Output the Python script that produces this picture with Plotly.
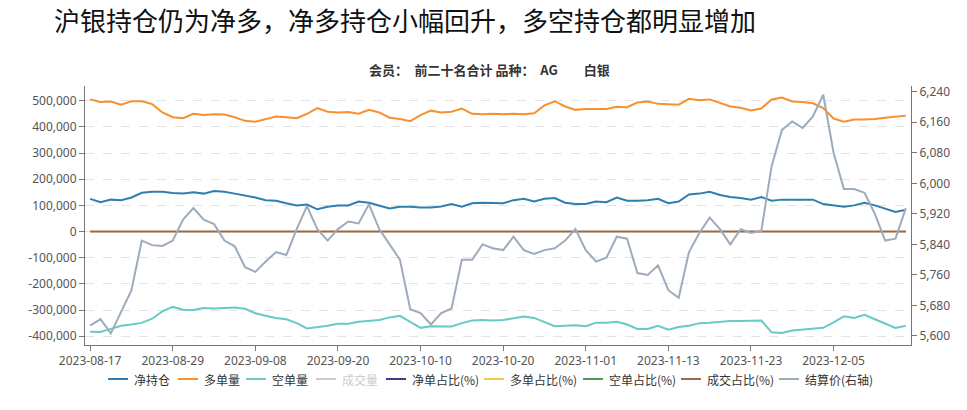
import plotly.graph_objects as go

dates = ["2023-08-17","2023-08-18","2023-08-21","2023-08-22","2023-08-23","2023-08-24","2023-08-25","2023-08-28","2023-08-29","2023-08-30","2023-08-31",
         "2023-09-01","2023-09-04","2023-09-05","2023-09-06","2023-09-07","2023-09-08","2023-09-11","2023-09-12","2023-09-13","2023-09-14","2023-09-15",
         "2023-09-18","2023-09-19","2023-09-20","2023-09-21","2023-09-22","2023-09-25","2023-09-26","2023-09-27","2023-09-28",
         "2023-10-09","2023-10-10","2023-10-11","2023-10-12","2023-10-13","2023-10-16","2023-10-17","2023-10-18","2023-10-19","2023-10-20",
         "2023-10-23","2023-10-24","2023-10-25","2023-10-26","2023-10-27","2023-10-30","2023-10-31",
         "2023-11-01","2023-11-02","2023-11-03","2023-11-06","2023-11-07","2023-11-08","2023-11-09","2023-11-10","2023-11-13","2023-11-14",
         "2023-11-15","2023-11-16","2023-11-17","2023-11-20","2023-11-21","2023-11-22","2023-11-23","2023-11-24","2023-11-27","2023-11-28",
         "2023-11-29","2023-11-30","2023-12-01","2023-12-04","2023-12-05","2023-12-06","2023-12-07","2023-12-08","2023-12-11","2023-12-12",
         "2023-12-13","2023-12-14"]

net_pos = [125, 112, 122, 120, 130, 148, 152, 152, 147, 145, 150, 145, 155, 152, 145, 138, 130, 120, 118, 108,
           100, 103, 85, 95, 100, 100, 115, 110, 100, 88, 95, 95, 92, 92, 96, 105, 95, 108, 110, 108,
           108, 120, 125, 115, 125, 128, 110, 105, 105, 115, 112, 130, 118, 118, 120, 125, 108, 115, 142, 145,
           152, 140, 132, 128, 122, 132, 118, 122, 122, 120, 122, 105, 100, 95, 100, 110, 100, 88, 75, 83]
long_pos = [505, 495, 497, 485, 498, 498, 487, 455, 437, 433, 450, 445, 448, 447, 437, 423, 420, 430, 440, 437,
            433, 450, 472, 458, 455, 457, 450, 465, 455, 435, 430, 422, 445, 462, 455, 458, 470, 450, 448, 450,
            448, 450, 448, 452, 482, 498, 478, 465, 468, 468, 468, 477, 475, 493, 497, 488, 487, 485, 507, 502,
            505, 490, 478, 473, 463, 470, 505, 512, 497, 495, 490, 472, 432, 420, 428, 428, 430, 435, 440, 443]
short_pos = [-383, -384, -372, -360, -355, -349, -333, -305, -288, -299, -300, -292, -294, -292, -290, -295, -312, -322, -330, -335,
             -350, -370, -365, -360, -352, -352, -345, -342, -338, -328, -322, -345, -368, -362, -362, -363, -350, -340, -338, -340,
             -338, -332, -325, -330, -345, -362, -360, -358, -362, -348, -348, -345, -355, -372, -372, -360, -375, -365, -360, -350,
             -348, -345, -342, -342, -340, -340, -385, -388, -378, -375, -370, -368, -347, -324, -330, -318, -335, -352, -368, -360]
settle = [5627, 5644, 5607, 5665, 5720, 5850, 5838, 5836, 5850, 5905, 5935, 5905, 5893, 5850, 5835, 5780, 5768, 5795, 5820, 5812,
          5880, 5940, 5880, 5850, 5880, 5900, 5895, 5945, 5880, 5840, 5800, 5670, 5660, 5630, 5660, 5672, 5800, 5800, 5840, 5830,
          5825, 5860, 5825, 5815, 5825, 5830, 5850, 5880, 5825, 5795, 5805, 5860, 5855, 5765, 5760, 5785, 5720, 5700, 5820, 5870,
          5910, 5880, 5840, 5880, 5870, 5875, 6045, 6140, 6162, 6145, 6175, 6232, 6080, 5985, 5985, 5975, 5920, 5850, 5855, 5935]
# ratio series (%): they sit on the zero line at the left-axis scale
net_ratio = [0] * len(dates)
long_ratio = [0] * len(dates)
short_ratio = [0] * len(dates)
vol_ratio = [0] * len(dates)
volume = [0] * len(dates)

left_ticks = [-400000, -300000, -200000, -100000, 0, 100000, 200000, 300000, 400000, 500000]
right_ticks = [5600, 5680, 5760, 5840, 5920, 6000, 6080, 6160, 6240]
x_ticks = dates[::8]

series_names = ["净持仓", "多单量", "空单量", "成交量", "净单占比(%)", "多单占比(%)", "空单占比(%)", "成交占比(%)", "结算价(右轴)"]
series_colors = ["#2f7eb2", "#f7902e", "#66cbc6", "#cccccc", "#3c3f8f", "#f2c94c", "#4e9a57", "#9c6a46", "#9eabbb"]

font_fam = "Noto Sans, Noto Sans CJK SC, sans-serif"
cjk = "Noto Sans CJK SC, sans-serif"

# plot area in pixels: x 85..911, y 86..345
L, R, T, B = 85, 911, 86, 345
W, H = R - L, B - T
def px(x): return (x - L) / W
def py(y): return (B - y) / H

fig = go.Figure()

def add(idx, y, axis="y", visible=True, width=2):
    fig.add_trace(go.Scatter(x=dates, y=y, name=series_names[idx], mode="lines", yaxis=axis,
                             line=dict(color=series_colors[idx], width=width), visible=visible,
                             showlegend=False))

add(0, [v * 1000 for v in net_pos])
add(1, [v * 1000 for v in long_pos])
add(2, [v * 1000 for v in short_pos])
add(3, volume, visible=False)
add(4, net_ratio, width=1)
add(5, long_ratio, width=1)
add(6, short_ratio, width=1)
add(7, vol_ratio)
add(8, settle, axis="y2")

# legend row (drawn as shapes + text so spacing matches)
legend_text_x = [132, 202, 270, 340, 410, 508, 607, 705, 803]
legend_y = 379
shapes = []
annotations = []
for name, color, tx in zip(series_names, series_colors, legend_text_x):
    shapes.append(dict(type="line", xref="paper", yref="paper", x0=px(tx - 24), x1=px(tx - 4),
                       y0=py(legend_y), y1=py(legend_y), line=dict(color=color, width=2)))
    annotations.append(dict(text=name, xref="paper", yref="paper", x=px(tx), y=py(legend_y),
                            xanchor="left", yanchor="middle", showarrow=False,
                            font=dict(family=cjk, size=12, color="#cccccc" if name == "成交量" else "#333")))

annotations.append(dict(text="沪银持仓仍为净多，净多持仓小幅回升，多空持仓都明显增加", xref="paper", yref="paper",
                        x=px(53), y=py(0), xanchor="left", yanchor="top", showarrow=False, borderpad=0,
                        font=dict(family=cjk, size=26, color="#111")))
annotations.append(dict(text="<b>会员：\u3000前二十名合计 品种：\u00a0\u00a0AG\u3000\u3000白银</b>", xref="paper", yref="paper",
                        x=px(489), y=py(70), xanchor="center", yanchor="middle", showarrow=False,
                        font=dict(family=cjk, size=13, color="#333")))

fig.update_layout(
    width=967, height=410,
    margin=dict(l=L, r=967 - R, t=T, b=410 - B),
    paper_bgcolor="white", plot_bgcolor="white",
    font=dict(family=font_fam, size=12, color="#555"),
    showlegend=False,
    xaxis=dict(type="category", range=[-0.5, len(dates) - 0.5], tickvals=x_ticks, ticktext=x_ticks,
               showline=True, linecolor="#777", linewidth=1, ticks="outside", ticklen=5, tickcolor="#777",
               showgrid=False, zeroline=False, tickfont=dict(size=12, color="#555")),
    yaxis=dict(range=[-433500, 556200], tickvals=left_ticks, ticktext=[f"{v:,}" for v in left_ticks],
               showline=True, linecolor="#777", linewidth=1, ticks="outside", ticklen=5, tickcolor="#777",
               showgrid=True, gridcolor="#e3e3e3", griddash="dash", gridwidth=1, zeroline=False,
               tickfont=dict(size=12, color="#555")),
    yaxis2=dict(range=[5576.4, 6254.9], overlaying="y", side="right", tickvals=right_ticks,
                ticktext=[f"{v:,}" for v in right_ticks],
                showline=True, linecolor="#777", linewidth=1, ticks="outside", ticklen=5, tickcolor="#777",
                showgrid=False, zeroline=False, tickfont=dict(size=12, color="#555")),
    shapes=shapes,
    annotations=annotations,
)

fig.write_html("out.html", config={"displayModeBar": False},
               post_script="document.body.style.margin='0';document.body.style.overflow='hidden';")
